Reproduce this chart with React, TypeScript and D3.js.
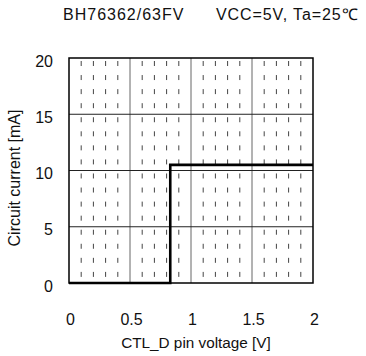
import React from "react";
import * as d3 from "d3";

const xTicks = [0, 0.5, 1, 1.5, 2];
const xTickLabels = ["0", "0.5", "1", "1.5", "2"];
const yTicks = [0, 5, 10, 15, 20];
const yTickLabels = ["0", "5", "10", "15", "20"];
const minorX = [0.1, 0.2, 0.3, 0.4, 0.6, 0.7, 0.8, 0.9, 1.1, 1.2, 1.3, 1.4, 1.6, 1.7, 1.8, 1.9];
const voltage = [0, 0.83, 0.83, 2];
const current = [0, 0, 10.5, 10.5];
const titleLeft = "BH76362/63FV";
const titleRight = "VCC=5V, Ta=25℃";
const xTitle = "CTL_D pin voltage [V]";
const yTitle = "Circuit current [mA]";

export default function App() {
  const W = 366, H = 356;
  const L = 69, R = 313, T = 58, B = 283;
  const x = d3.scaleLinear().domain([0, 2]).range([L, R]);
  const y = d3.scaleLinear().domain([0, 20]).range([B, T]);
  const pts = voltage.map((v, i) => [v, current[i]] as [number, number]);
  const line = d3.line<[number, number]>().x(d => x(d[0])).y(d => y(d[1]));
  const font = "'Liberation Sans', Arial, sans-serif";
  return (
    <svg width={W} height={H} style={{ position: "absolute", left: 0, top: 0, background: "#fff" }} fontFamily={font}>
      <rect x={0} y={0} width={W} height={H} fill="#fff" />
      <text x={63} y={20} fontSize={16} letterSpacing={1} fill="#111">{titleLeft}</text>
      <text x={216} y={20} fontSize={16} letterSpacing={0.9} fill="#111">{titleRight}</text>
      {minorX.map(v => (
        <line key={"m" + v} x1={x(v)} x2={x(v)} y1={T} y2={B} stroke="#444" strokeWidth={1}
          strokeDasharray="5 9.06" strokeDashoffset={-3} />
      ))}
      {xTicks.slice(1, -1).map(v => (
        <line key={"gx" + v} x1={x(v)} x2={x(v)} y1={T} y2={B} stroke="#666" strokeWidth={1} />
      ))}
      {yTicks.slice(1, -1).map(v => (
        <line key={"gy" + v} x1={L} x2={R} y1={y(v)} y2={y(v)} stroke="#222" strokeWidth={1} />
      ))}
      <rect x={L} y={T} width={R - L} height={B - T} fill="none" stroke="#000" strokeWidth={1.5} />
      <path d={line(pts) || ""} fill="none" stroke="#000" strokeWidth={2.6} />
      {yTicks.map((v, i) => (
        <text key={"yl" + v} x={53} y={y(v) + 8.5} fontSize={16} textAnchor="end" fill="#111">{yTickLabels[i]}</text>
      ))}
      {xTicks.map((v, i) => (
        <text key={"xl" + v} x={x(v) + 1.5} y={325} fontSize={16} textAnchor="middle" fill="#111">{xTickLabels[i]}</text>
      ))}
      <text x={196} y={348} fontSize={15.3} textAnchor="middle" fill="#111">{xTitle}</text>
      <text transform={`translate(20,178) rotate(-90)`} fontSize={16} textAnchor="middle" fill="#111">{yTitle}</text>
    </svg>
  );
}
